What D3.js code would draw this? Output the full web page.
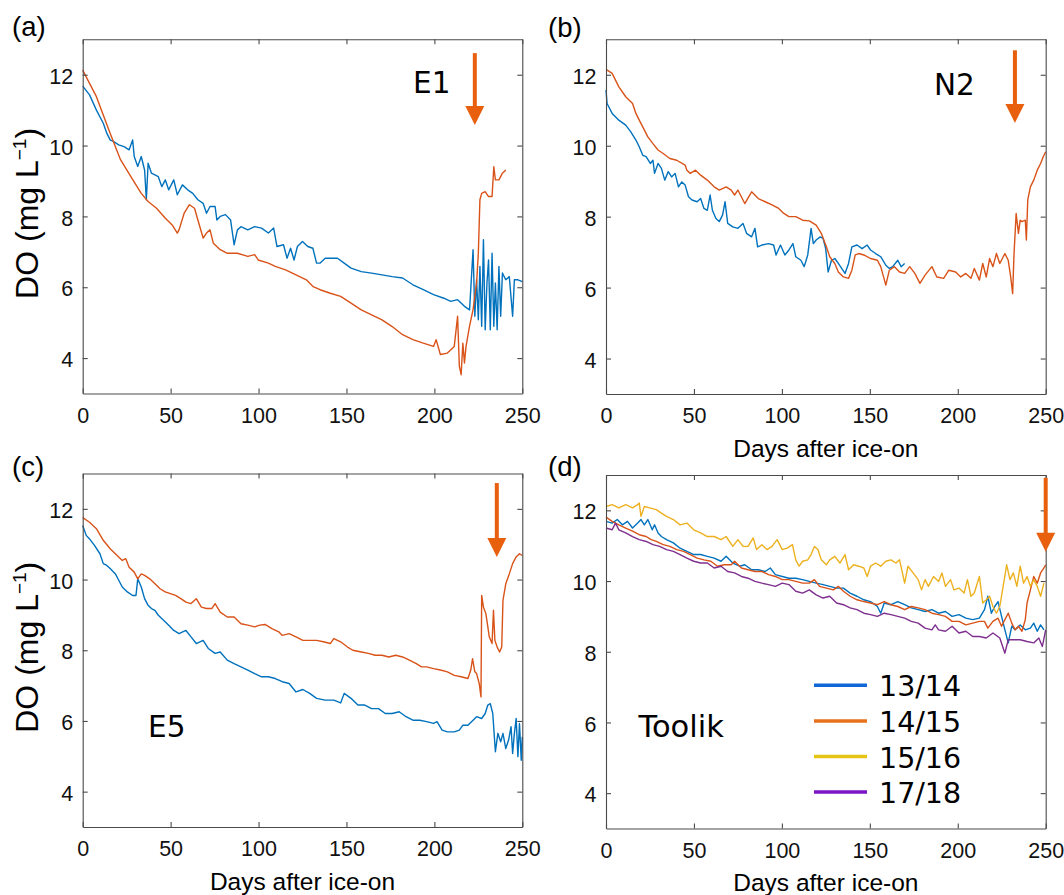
<!DOCTYPE html>
<html><head><meta charset="utf-8">
<script src="https://cdn.jsdelivr.net/npm/d3@7"></script>
<style>body{margin:0;background:#fff}svg{display:block}</style>
</head><body><svg id="chart" width="1064" height="895"></svg>
<script>
// ---------- data ----------
const xTicks = [0, 50, 100, 150, 200, 250];
const yTicks = [4, 6, 8, 10, 12];
const seasons = ["13/14", "14/15", "15/16", "17/18"];
const panelTags = ["(a)", "(b)", "(c)", "(d)"];
const siteNames = ["E1", "N2", "E5", "Toolik"];
const xLabel = "Days after ice-on";

// Panel (a) E1
const e1_1314 = [[0,11.68],[3.9,11.43],[7.8,11.0],[11.7,10.63],[13.7,10.35],[15.6,10.16],[17.6,10.11],[20.5,10.02],[23.5,9.97],[26.4,9.88],[28.4,10.16],[29.3,9.69],[31.3,9.41],[33.3,9.69],[35.2,9.31],[36.2,8.47],[37.2,9.5],[39.1,9.22],[43,9.12],[45,8.84],[47,9.03],[48.9,8.75],[51.8,9.03],[53.8,8.61],[56.7,8.89],[59.7,8.75],[62.6,8.65],[65.5,8.47],[68.5,8.37],[70.4,8.09],[72.4,8.28],[75.3,8.28],[76.3,7.9],[78.2,8.0],[81.2,8.05],[84.1,7.9],[86.1,7.2],[88,7.62],[90,7.71],[93.9,7.62],[97.8,7.71],[101.7,7.67],[105.6,7.53],[108.6,7.67],[110.5,7.15],[114.2,7.2],[116.2,6.82],[118.2,7.1],[120.2,6.77],[122.1,7.15],[125,7.29],[128,7.15],[130.9,7.1],[133,6.68],[134.9,6.68],[137.9,6.82],[140.8,6.82],[144.9,6.82],[148.7,6.68],[152.6,6.54],[158.4,6.44],[164.3,6.4],[170.2,6.35],[176,6.3],[181.9,6.26],[187.8,6.07],[193.7,5.93],[199.5,5.79],[205.4,5.69],[209.3,5.6],[213.2,5.65],[217.1,5.46],[220,5.36],[222,7.06],[223,5.18],[224,6.21],[225,5.08],[225.9,6.59],[226.9,4.9],[227.9,7.34],[228.9,4.8],[229.9,6.12],[230.8,6.77],[231.8,4.8],[232.8,6.96],[233.8,4.9],[234.7,6.12],[235.7,4.8],[236.7,6.59],[237.7,5.18],[238.7,6.4],[240.6,6.21],[242.6,6.3],[244.5,5.18],[245.5,6.21],[247.5,6.21],[250,6.16]];
const e1_1415 = [[0,12.13],[7.8,11.38],[15.6,10.35],[21.5,9.6],[27.4,9.12],[33.3,8.65],[37.2,8.42],[42,8.23],[47,7.95],[50.9,7.76],[53.8,7.53],[54.8,7.62],[57.7,8.09],[60.7,8.33],[63.6,8.23],[65.5,7.9],[68.5,7.39],[70.4,7.53],[72.4,7.62],[74.3,7.24],[78.2,7.06],[82,6.96],[88,6.96],[93.9,6.87],[97.8,6.92],[99.8,6.77],[105.6,6.68],[109.5,6.59],[115.4,6.49],[121.3,6.35],[127.2,6.21],[131,6.02],[135,5.93],[140.8,5.83],[146.7,5.74],[152.6,5.55],[158.4,5.36],[164.3,5.22],[170.2,5.08],[176,4.89],[181.9,4.66],[187.8,4.52],[193.7,4.42],[199.5,4.33],[201,4.52],[203.4,4.1],[207.4,4.14],[211.3,4.33],[213.2,5.18],[214.2,3.77],[215.2,3.53],[216.2,4.42],[217.1,3.86],[218,4.33],[220,4.9],[222,5.37],[224,6.12],[225,6.96],[225.9,8.47],[226.9,8.65],[228.9,8.7],[230.8,8.56],[232.8,8.56],[233.8,9.4],[234.7,9.03],[236.7,9.03],[238.7,9.22],[240.6,9.31]];

// Panel (b) N2
const n2_1314 = [[0,11.57],[0.6,11.19],[3.5,10.91],[7.3,10.72],[11.2,10.58],[14.1,10.39],[17,10.16],[18.9,9.97],[20.9,9.73],[22.8,9.69],[25.2,9.5],[26.7,9.59],[27.6,9.22],[29.6,9.5],[31.5,9.36],[33.4,9.03],[35.4,9.27],[37.3,9.12],[39.3,9.22],[41.2,8.84],[43.1,8.98],[45,8.89],[46.9,8.56],[48.9,8.47],[51.8,8.42],[53.8,8.51],[55.7,8.23],[57.6,8.18],[59.2,8.61],[60.5,8.18],[62.5,7.95],[64.4,7.86],[66.3,8.05],[67.7,8.42],[69.2,7.81],[72.1,7.71],[75,7.67],[77.9,7.81],[79.9,7.53],[82.8,7.43],[84.7,7.67],[86.2,7.15],[88.6,7.2],[92.4,7.24],[95.3,7.2],[96.7,6.92],[99.2,7.2],[101.7,6.92],[104,7.06],[106.3,7.24],[107.9,6.87],[110.8,6.77],[112.7,6.59],[114.7,6.92],[116.6,7.67],[117.9,7.24],[119.5,7.34],[121.8,7.43],[123.4,7.39],[124.9,7.1],[126.3,6.44],[128.2,6.77],[130.1,6.82],[132.1,6.68],[134,6.54],[135.9,6.4],[137.9,6.68],[139.8,7.15],[142.7,7.2],[145.6,7.1],[148.5,7.2],[150.4,7.06],[153.3,6.96],[156.2,6.87],[159.1,6.63],[161.1,6.54],[163,6.59],[165.9,6.77],[167.8,6.59],[169.8,6.68]];
const n2_1415 = [[0,12.15],[3.5,12.04],[7.3,11.66],[11.2,11.38],[15.1,11.19],[17,10.91],[18.9,10.72],[20.9,10.53],[23.8,10.25],[26.7,10.06],[29.6,9.88],[32.5,9.78],[36.3,9.64],[40.2,9.59],[45,9.45],[46,9.31],[47.9,9.22],[50.9,9.31],[53.8,9.17],[57.6,9.03],[61.5,8.84],[64.4,8.75],[68.3,8.84],[71.2,8.75],[73.1,8.61],[75,8.75],[78.9,8.37],[82.8,8.7],[86.6,8.51],[90.5,8.42],[94.4,8.33],[98.2,8.23],[101.1,8.09],[104,8.0],[107.9,8.0],[111.8,7.9],[115.6,7.88],[119.5,7.76],[122.4,7.53],[125.3,7.15],[127.2,6.87],[130.1,6.68],[132.1,6.44],[135,6.3],[137.9,6.26],[139.8,6.49],[141.7,6.92],[143.7,6.96],[146.6,6.92],[150.4,6.82],[154.3,6.77],[156.2,6.59],[159.1,6.07],[161.1,6.49],[164,6.59],[166.9,6.44],[169.8,6.4],[172.7,6.59],[175.6,6.4],[178.5,6.12],[181.4,6.35],[185.3,6.59],[188.1,6.3],[192,6.26],[194.9,6.49],[198.8,6.44],[201.7,6.3],[204.6,6.4],[207.5,6.26],[209.4,6.54],[212.3,6.21],[214.2,6.68],[216.2,6.3],[218.1,6.82],[220,6.59],[222,6.96],[223.9,6.68],[226.8,6.96],[228.7,6.77],[230.1,6.3],[231.2,5.83],[232,6.96],[233.2,8.09],[234.5,7.53],[235.5,7.9],[236.5,7.86],[238.4,7.9],[239,7.34],[239.8,8.47],[241.3,8.84],[243.2,9.03],[245.2,9.31],[247.1,9.5],[248.6,9.69],[250,9.83]];

// Panel (c) E5
const e5_1314 = [[0,11.53],[2,11.25],[3.9,11.15],[6.8,10.96],[9.8,10.73],[11.7,10.45],[13.7,10.4],[15.6,10.31],[18.6,10.16],[20.5,9.98],[22.5,9.79],[25.4,9.65],[28.4,9.55],[30.3,9.55],[31.3,10.02],[33.3,9.79],[35.2,9.46],[37.2,9.27],[39.1,9.18],[41.1,9.13],[43,8.99],[46,8.85],[48.9,8.71],[51.8,8.56],[54.8,8.47],[58.7,8.56],[61.6,8.38],[64.6,8.19],[68.5,8.28],[71.4,8.05],[75.3,7.91],[78.2,7.95],[82.2,7.72],[86.1,7.62],[90,7.53],[93.9,7.44],[97.8,7.34],[101.7,7.25],[105.6,7.25],[109.5,7.2],[113.5,7.11],[117.4,7.06],[121.3,6.82],[125.2,6.89],[129.1,6.78],[133,6.64],[137.9,6.59],[142.8,6.59],[146.7,6.51],[148.7,6.78],[152.6,6.64],[156.5,6.45],[160.4,6.45],[164.3,6.35],[168.2,6.35],[172.1,6.21],[176,6.21],[180,6.26],[183.9,6.12],[187.8,6.02],[191.7,6.02],[195.6,5.98],[199.5,5.93],[201.5,5.98],[204.4,5.74],[207.4,5.69],[211.3,5.69],[214.2,5.74],[216.2,5.88],[219.1,5.88],[222,6.02],[224,6.12],[226.9,6.07],[228.9,6.21],[230.4,6.45],[231.8,6.49],[233.2,6.21],[234.7,5.13],[236.1,5.65],[237.7,5.41],[239,5.65],[240.6,5.22],[242.2,5.46],[243.6,5.84],[244.5,5.08],[245.5,5.65],[246.5,6.07],[247.5,4.99],[248.4,5.93],[249.4,4.89],[250,5.55]];
const e5_1415 = [[0,11.75],[3.9,11.62],[7.8,11.44],[11.7,11.11],[15.6,10.87],[19.6,10.68],[22.5,10.54],[24.5,10.59],[26.4,10.35],[29.3,10.21],[31.3,10.02],[33.3,10.16],[35.2,10.12],[38.1,10.02],[41.1,9.88],[44,9.74],[46.9,9.65],[49.9,9.6],[52.8,9.55],[55.8,9.46],[58.7,9.36],[61.6,9.32],[64.6,9.46],[67.5,9.22],[70.4,9.18],[73.4,9.18],[75.3,9.32],[78.2,9.08],[82.2,8.94],[86.1,8.94],[90,8.75],[93.9,8.71],[97.8,8.66],[100.7,8.71],[103.7,8.73],[107.6,8.61],[111.5,8.52],[113.5,8.42],[117.4,8.47],[121.3,8.38],[125.2,8.28],[129.1,8.28],[133,8.28],[136.9,8.24],[140.8,8.19],[142.8,8.33],[146.7,8.24],[150.6,8.09],[153.6,8.0],[158.5,7.95],[162.4,7.91],[166.3,7.86],[170.2,7.86],[174.1,7.81],[178,7.86],[181.9,7.81],[185.8,7.72],[189.7,7.62],[192.7,7.53],[195.6,7.53],[199.5,7.48],[203.4,7.44],[207.4,7.39],[211.3,7.29],[215.2,7.25],[219.1,7.2],[220.7,7.44],[221.7,7.76],[223,7.39],[224,7.34],[225.5,7.06],[226.5,6.68],[226.9,9.55],[227.9,9.22],[229.3,9.03],[230.4,8.66],[231.2,8.38],[232.8,8.19],[233.6,9.13],[234.4,8.28],[235.7,8.09],[237.1,7.95],[238.3,8.09],[239,9.41],[240.6,9.88],[242.6,10.16],[244.5,10.45],[246.5,10.64],[248.4,10.73],[250,10.68]];

// Panel (d) Toolik
const tk_1314 = [[0,11.69],[3.5,11.64],[6.4,11.74],[9.3,11.59],[12.2,11.69],[15.1,11.5],[18,11.64],[19.9,11.74],[21.8,11.59],[23.8,11.74],[26.3,11.45],[27.6,11.59],[29.6,11.36],[31.5,11.26],[34.4,11.17],[38.3,11.08],[42.1,10.93],[46,10.84],[49.9,10.75],[53.8,10.75],[57.6,10.7],[61.5,10.65],[65.4,10.56],[68.3,10.7],[72.1,10.51],[76,10.42],[78.9,10.46],[82.8,10.32],[86.6,10.32],[90.5,10.27],[93.4,10.37],[96.3,10.18],[100.2,10.13],[104,10.08],[107.9,10.08],[111.8,10.04],[115.6,9.99],[119.5,9.94],[123.4,9.9],[127.2,9.85],[131.1,9.8],[135,9.8],[138.8,9.66],[142.7,9.57],[146.6,9.47],[150.4,9.42],[154.3,9.28],[156.2,9.09],[158.2,9.38],[162,9.33],[165.9,9.42],[169.8,9.33],[173.6,9.24],[177.5,9.19],[181.4,9.14],[185.3,9.19],[189.1,9.09],[193,9.14],[196.8,9.0],[200.7,9.05],[204.6,8.95],[208.5,8.91],[212.3,8.95],[215.2,9.19],[217.1,9.57],[219.1,9.09],[221,9.28],[222.9,9.42],[224.9,9.0],[226.8,8.62],[228.7,8.25],[230.7,8.72],[232.6,8.62],[235.5,8.76],[238.4,8.62],[241.3,8.67],[243.2,8.81],[245.2,8.58],[247.1,8.76],[249,8.62]];
const tk_1415 = [[0,11.81],[3.5,11.69],[7.3,11.59],[11.2,11.5],[15.1,11.41],[18.9,11.31],[22.8,11.26],[25.7,11.17],[28.6,11.12],[32.5,11.03],[36.3,10.98],[40.2,10.89],[44.1,10.84],[47.9,10.75],[51.8,10.65],[55.7,10.6],[59.6,10.56],[63.4,10.42],[67.3,10.46],[71.2,10.46],[73.1,10.56],[77,10.37],[80.8,10.32],[84.7,10.27],[88.6,10.27],[92.4,10.18],[96.3,10.13],[100.2,10.04],[104,10.04],[107.9,9.99],[111.8,9.94],[115.6,9.94],[118.5,10.04],[121.4,9.85],[125.3,9.8],[129.2,9.75],[132.1,9.85],[135,9.71],[138.8,9.57],[142.7,9.47],[146.6,9.42],[150.4,9.38],[154.3,9.33],[158.2,9.42],[162,9.33],[165.9,9.28],[169.8,9.19],[173.6,9.28],[177.5,9.24],[181.4,9.19],[185.3,9.09],[189.1,9.05],[193,9.0],[196.8,8.86],[200.7,8.86],[204.6,8.76],[208.5,8.81],[212.3,8.86],[215.2,8.86],[217.1,8.67],[220,8.86],[222.9,8.95],[224.9,8.72],[226.8,8.91],[228.7,9.09],[230.7,8.81],[232.6,8.62],[234.5,8.72],[236.5,8.58],[238.4,8.91],[239.4,9.38],[241.3,9.75],[243.2,10.13],[245.2,9.94],[247.1,10.23],[249,10.37],[250,10.46]];
const tk_1516 = [[0,12.11],[3.5,12.16],[7.3,12.07],[11.2,12.16],[15.1,12.07],[18,12.16],[18.9,12.21],[19.9,11.83],[21.8,12.11],[24.7,12.07],[28.6,12.02],[31.5,11.92],[34.4,11.83],[38.3,11.74],[42.1,11.59],[46,11.64],[49.9,11.45],[53.8,11.36],[57.6,11.26],[61.5,11.26],[65.4,11.17],[68.3,11.26],[72.1,10.98],[75,11.17],[77.9,10.98],[80.8,10.98],[83.7,11.22],[85.6,10.89],[88.6,11.03],[91.5,10.89],[94.4,10.98],[97.3,11.17],[100.2,10.89],[103.1,10.93],[106,11.03],[107.9,10.6],[109.8,10.42],[111.8,10.56],[114.7,10.6],[116.6,10.75],[118.5,10.98],[120.5,10.89],[122.4,10.6],[125.3,10.46],[127.2,10.6],[130.1,10.7],[133,10.51],[135.9,10.75],[137.9,10.32],[140.8,10.46],[143.7,10.42],[146.6,10.37],[148.5,10.13],[150.4,10.42],[153.3,10.51],[156.2,10.42],[159.1,10.56],[162,10.6],[164.9,10.51],[166.9,10.6],[169.8,9.94],[171.7,10.42],[174.6,10.23],[177.5,10.04],[179.4,9.75],[181.4,10.04],[183.3,9.85],[186.2,10.13],[189.1,9.99],[191,10.23],[193,9.85],[195.9,10.04],[197.8,9.75],[200.7,9.8],[203.6,9.66],[205.5,10.04],[207.5,9.57],[209.4,9.66],[212.3,10.13],[214.2,9.38],[216.2,9.47],[218.1,9.57],[220,9.28],[222,9.09],[223.9,9.28],[225.8,9.85],[227.8,10.46],[229.7,10.04],[231.6,10.23],[233.6,9.85],[235.5,10.42],[237.4,9.94],[239.4,10.13],[241.3,9.85],[243.2,10.04],[245.2,9.85],[247.1,9.57],[249,9.94]];
const tk_1718 = [[0,11.5],[3.5,11.45],[5.4,11.64],[7.3,11.45],[11.2,11.36],[15.1,11.26],[18.9,11.17],[22.8,11.12],[26.7,11.03],[30.5,10.98],[34.4,10.89],[38.3,10.84],[42.1,10.75],[46,10.65],[49.9,10.56],[53.8,10.51],[57.6,10.51],[61.5,10.37],[65.4,10.42],[69.2,10.27],[73.1,10.23],[77,10.13],[80.8,10.08],[84.7,9.99],[88.6,9.94],[92.4,9.9],[96.3,9.85],[100.2,9.94],[104,9.9],[107.9,9.71],[111.8,9.66],[115.6,9.75],[119.5,9.61],[123.4,9.52],[127.2,9.57],[131.1,9.38],[135,9.33],[138.8,9.24],[142.7,9.19],[146.6,9.09],[150.4,9.05],[154.3,9.0],[158.2,9.09],[162,9.05],[165.9,9.0],[169.8,8.95],[173.6,8.86],[177.5,8.81],[181.4,8.67],[185.3,8.62],[187.2,8.76],[189.1,8.62],[193,8.58],[196.8,8.72],[200.7,8.53],[204.6,8.58],[208.5,8.43],[212.3,8.43],[216.2,8.39],[220,8.53],[223.9,8.39],[226.8,7.96],[228.7,8.34],[231.6,8.34],[235.5,8.34],[239.4,8.29],[243.2,8.25],[246.1,8.39],[248.1,8.15],[250,8.62]];

// ice-off arrows (day, top value, tip value) per panel
const arrowDays = [223, 232.5, 235.5, 250];
const arrowTops = [12.61, 12.69, 12.73, 12.92];
const arrowTips = [10.58, 10.64, 10.64, 10.83];

// ---------- styling / layout ----------
const seriesColors = {"13/14":"#0072BD","14/15":"#D95319","15/16":"#EDB120","17/18":"#7E2F8E"};
const legendColors = {"13/14":"#1266d6","14/15":"#e8711c","15/16":"#e6c414","17/18":"#7a16c6"};
const arrowColor = "#E8600E";
const axisColor = "#4a4a4a";
const tickFont = "'Liberation Sans', Arial, Helvetica, sans-serif";
const textFont = "'DejaVu Sans', Verdana, sans-serif";

const panels = [
  {tag:0, box:[82.7,522.3,39.3,393.5], series:[["13/14",e1_1314],["14/15",e1_1415]], site:[413,93], xlab:null, ylab:true, tagPos:[12,36]},
  {tag:1, box:[606,1045.7,39.3,394], series:[["13/14",n2_1314],["14/15",n2_1415]], site:[934,94.5], xlab:457, ylab:false, tagPos:[548,37]},
  {tag:2, box:[82.7,522.3,473.5,827], series:[["13/14",e5_1314],["14/15",e5_1415]], site:[148,737], xlab:890, ylab:true, tagPos:[12,476]},
  {tag:3, box:[606,1045.7,475,828.5], series:[["13/14",tk_1314],["14/15",tk_1415],["15/16",tk_1516],["17/18",tk_1718]], site:[638.5,737], xlab:891, ylab:false, tagPos:[548,476], legend:true}
];

const svg = d3.select("#chart");
svg.append("rect").attr("width",1064).attr("height",895).attr("fill","#fff");

panels.forEach((p, i) => {
  const [x0,x1,y0,y1] = p.box;
  const x = d3.scaleLinear().domain([0,250]).range([x0,x1]);
  const y = d3.scaleLinear().domain([3,13]).range([y1,y0]);
  const g = svg.append("g");

  // data lines
  const line = d3.line().x(d=>x(d[0])).y(d=>y(d[1]));
  p.series.forEach(([name, data]) => {
    g.append("path").datum(data).attr("d", line)
      .attr("fill","none").attr("stroke", seriesColors[name])
      .attr("stroke-width",1.4).attr("stroke-linejoin","round");
  });

  // axes (ticks inward on all four sides)
  const styleAxis = sel => {
    sel.select(".domain").attr("stroke", axisColor).attr("stroke-width",1.1);
    sel.selectAll(".tick line").attr("stroke", axisColor).attr("stroke-width",1.1);
    sel.selectAll("text").attr("fill","#111").attr("font-family",tickFont).attr("font-size",21.5);
  };
  g.append("g").attr("transform",`translate(0,${y1})`)
    .call(d3.axisBottom(x).tickValues(xTicks).tickSize(-5).tickSizeOuter(0).tickPadding(14)).call(styleAxis);
  g.append("g").attr("transform",`translate(0,${y0})`)
    .call(d3.axisTop(x).tickValues(xTicks).tickSize(-5).tickSizeOuter(0).tickFormat("")).call(styleAxis);
  g.append("g").attr("transform",`translate(${x0},0)`)
    .call(d3.axisLeft(y).tickValues(yTicks).tickSize(-5).tickSizeOuter(0).tickPadding(9.5)).call(styleAxis)
    .selectAll("text").attr("dy","0.4em");
  g.append("g").attr("transform",`translate(${x1},0)`)
    .call(d3.axisRight(y).tickValues(yTicks).tickSize(-5).tickSizeOuter(0).tickFormat("")).call(styleAxis);

  // arrow
  const ax = x(arrowDays[i]), aTop = y(arrowTops[i]), aTip = y(arrowTips[i]);
  const headH = 19, headW = 9.5;
  g.append("line").attr("x1",ax).attr("x2",ax).attr("y1",aTop).attr("y2",aTip-headH+1)
    .attr("stroke",arrowColor).attr("stroke-width",4);
  g.append("path").attr("d",`M${ax-headW},${aTip-headH}L${ax+headW},${aTip-headH}L${ax},${aTip}Z`)
    .attr("fill",arrowColor);

  // site name
  g.append("text").attr("x",p.site[0]).attr("y",p.site[1]).text(siteNames[i])
    .attr("font-family",textFont).attr("font-size", i===3 ? 30.5 : 29.5).attr("fill","#000");

  // panel tag
  g.append("text").attr("x",p.tagPos[0]).attr("y",p.tagPos[1]).text(panelTags[i])
    .attr("font-family",tickFont).attr("font-size",27.5).attr("fill","#000");

  // x label
  if (p.xlab) {
    g.append("text").attr("x",(x0+x1)/2).attr("y",p.xlab).attr("text-anchor","middle")
      .attr("font-family",tickFont).attr("font-size",24.5).attr("fill","#000").text(xLabel);
  }
  // y label
  if (p.ylab) {
    const t = g.append("text").attr("transform",`translate(38,${(y0+y1)/2 - 3}) rotate(-90)`)
      .attr("text-anchor","middle").attr("font-family",tickFont).attr("font-size",32).attr("fill","#000");
    t.append("tspan").text("DO (mg L");
    t.append("tspan").attr("font-size",19).attr("dy",-12).text("\u22121");
    t.append("tspan").attr("dy",12).text(")");
  }

  // legend
  if (p.legend) {
    const lg = g.append("g");
    seasons.forEach((s, k) => {
      const ly = 685.3 + k*35.6;
      lg.append("line").attr("x1",814).attr("x2",867).attr("y1",ly).attr("y2",ly)
        .attr("stroke",legendColors[s]).attr("stroke-width",3.5);
      lg.append("text").attr("x",879).attr("y",ly+11).text(s)
        .attr("font-family",textFont).attr("font-size",28.5).attr("fill","#000");
    });
  }
});
</script></body></html>
